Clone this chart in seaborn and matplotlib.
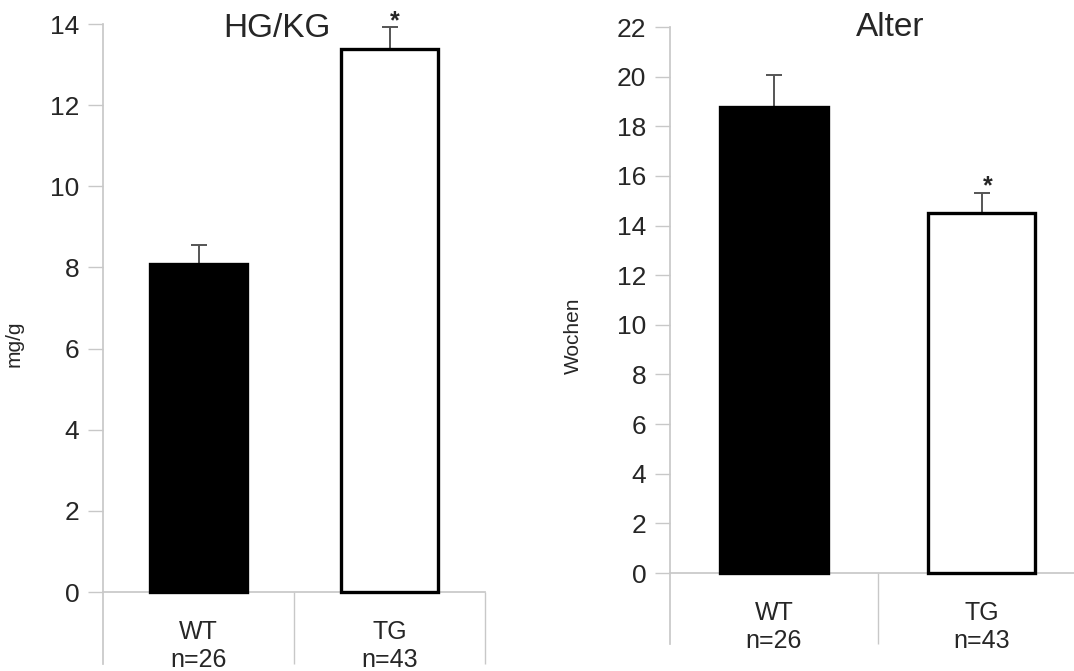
import pandas as pd
import seaborn as sns
import matplotlib
matplotlib.use("Agg")
import matplotlib.pyplot as plt

# data
groups = ["WT", "TG"]
n_labels = ["n=26", "n=43"]
hgkg_mean = [8.08, 13.38]
hgkg_err = [0.48, 0.54]
alter_mean = [18.78, 14.50]
alter_err = [1.28, 0.81]
sig = [False, True]

sns.set_theme(style="white")
plt.rcParams["font.family"] = ["Liberation Sans", "DejaVu Sans"]

fig = plt.figure(figsize=(10.74, 6.71), dpi=100)
ax1 = fig.add_axes([0.0959, 0.0104, 0.3557, 0.9538])
ax2 = fig.add_axes([0.6238, 0.0402, 0.3873, 0.9195])

grey = "#c8c8c8"


def panel(ax, means, errs, ylab, title, ylim, yticks, tx, ty, bw):
    df = pd.DataFrame({"group": groups, "value": means})
    sns.barplot(data=df, x="group", y="value", hue="group",
                palette=["black", "white"], edgecolor="black",
                linewidth=2.4, width=bw, legend=False, ax=ax)
    for p in ax.patches:
        p.set_zorder(3)
    xs = list(range(len(groups)))
    ax.errorbar(xs, means, yerr=[[0] * len(errs), errs], fmt="none",
                ecolor="#555555", elinewidth=1.4, capsize=6, capthick=1.4,
                zorder=2)
    for x, m, e, s in zip(xs, means, errs, sig):
        if s:
            ax.annotate("*", (x, m + e), xytext=(4, -4),
                        textcoords="offset points", ha="center", va="bottom",
                        fontsize=18, fontweight="bold")
    ax.set_xlim(-0.5, 1.5)
    ax.set_ylim(*ylim)
    ax.set_yticks(yticks)
    ax.tick_params(axis="y", length=11, width=1, color=grey, pad=6,
                   labelsize=19, left=True)
    ax.set_xticks(xs)
    ax.set_xticklabels([f"{g}\n{n}" for g, n in zip(groups, n_labels)],
                       linespacing=1.1)
    ax.tick_params(axis="x", length=0, pad=20, labelsize=18)
    for sp in ["top", "right"]:
        ax.spines[sp].set_visible(False)
    ax.spines["left"].set_color(grey)
    ax.spines["bottom"].set_color(grey)
    ax.spines["bottom"].set_position(("data", 0))
    ax.vlines([0.5, 1.5], ylim[0], 0, colors=grey, linewidth=1, clip_on=False)
    ax.set_xlabel("")
    ax.set_ylabel(ylab, fontsize=15)
    ax.yaxis.set_label_coords(-0.209, 0.5)
    ax.text(tx, ty, title, ha="center", va="center", fontsize=24)


panel(ax1, hgkg_mean, hgkg_err, "mg/g", "HG/KG", (-1.775, 14),
      range(0, 15, 2), 0.41, 13.9, 0.51)
panel(ax2, alter_mean, alter_err, "Wochen", "Alter", (-2.86, 22),
      range(0, 23, 2), 0.558, 22, 0.515)

fig.savefig("out.png", dpi=100)
